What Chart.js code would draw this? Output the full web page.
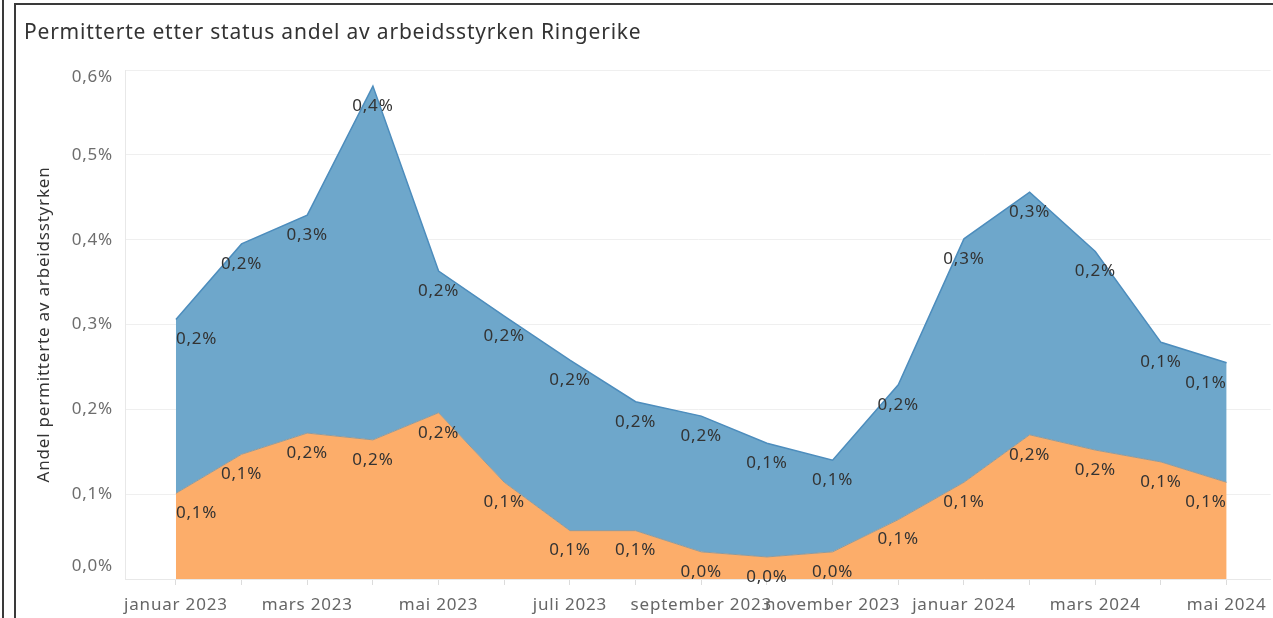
<!DOCTYPE html>
<html>
<head>
<meta charset="utf-8">
<title>Permitterte etter status</title>
<script src="https://cdn.jsdelivr.net/npm/chart.js@4.4.1/dist/chart.umd.min.js"></script>
<style>
  html, body { margin: 0; padding: 0; background: #fff; overflow: hidden; }
  #wrap { position: relative; width: 1273px; height: 618px; }
  #edge { position: absolute; left: 2px; top: 0; width: 2px; height: 618px; background: #3a3a3a; }
  #frame { position: absolute; left: 14px; top: 3px; right: 0; bottom: 0;
           border-left: 2px solid #3a3a3a; border-top: 2px solid #3a3a3a; }
  canvas { position: absolute; left: 0; top: 0; }
</style>
</head>
<body>
<div id="wrap">
  <canvas id="chart" width="1273" height="618"></canvas>
  <div id="edge"></div>
  <div id="frame"></div>
</div>
<script>
// months shown on the x axis (Jan 2023 - May 2024)
const months = [
  'januar 2023', 'februar 2023', 'mars 2023', 'april 2023', 'mai 2023', 'juni 2023',
  'juli 2023', 'august 2023', 'september 2023', 'oktober 2023', 'november 2023', 'desember 2023',
  'januar 2024', 'februar 2024', 'mars 2024', 'april 2024', 'mai 2024'
];

// share of labour force, in percent (bottom / orange layer)
const orangeShare = [0.101, 0.147, 0.172, 0.164, 0.196, 0.114, 0.057, 0.057, 0.032,
                     0.026, 0.032, 0.070, 0.114, 0.170, 0.152, 0.138, 0.114];

// share of labour force, in percent (upper / blue layer, stacked on orange)
const blueShare = [0.205, 0.248, 0.257, 0.417, 0.167, 0.196, 0.201, 0.152, 0.160,
                   0.134, 0.108, 0.159, 0.287, 0.286, 0.234, 0.141, 0.141];

const yTicks = [0, 0.1, 0.2, 0.3, 0.4, 0.5, 0.6];

const FONT = '"Noto Sans", sans-serif';
const pct = v => v.toFixed(1).replace('.', ',') + '%';
const toPoints = arr => arr.map((v, i) => ({ x: i, y: v }));

// the Tableau text is a bit spaced out
const spacing = {
  id: 'spacing',
  beforeDraw(chart) { chart.ctx.letterSpacing = '0.8px'; }
};

// y tick labels, kept inside the plot area at the ends like Tableau does
const yLabels = {
  id: 'yLabels',
  afterDraw(chart) {
    const ctx = chart.ctx;
    const y = chart.scales.y;
    ctx.save();
    ctx.font = '17px ' + FONT;
    ctx.fillStyle = '#6d6d6d';
    ctx.textAlign = 'right';
    ctx.textBaseline = 'middle';
    yTicks.forEach(v => {
      let py = y.getPixelForValue(v);
      py = Math.max(y.top + 7, Math.min(y.bottom - 13, py));
      ctx.fillText(pct(v), y.right - 12, py);
    });
    ctx.restore();
  }
};

// value labels below each point
const valueLabels = {
  id: 'valueLabels',
  afterDatasetsDraw(chart) {
    const ctx = chart.ctx;
    ctx.save();
    ctx.font = '17px ' + FONT;
    ctx.fillStyle = '#333';
    ctx.textBaseline = 'middle';
    chart.data.datasets.forEach((ds, di) => {
      const meta = chart.getDatasetMeta(di);
      const last = meta.data.length - 1;
      meta.data.forEach((pt, i) => {
        ctx.textAlign = i === 0 ? 'left' : (i === last ? 'right' : 'center');
        ctx.fillText(pct(ds.data[i].y), pt.x, pt.y + 20);
      });
    });
    ctx.restore();
  }
};

const ctx = document.getElementById('chart').getContext('2d');
new Chart(ctx, {
  type: 'line',
  data: {
    datasets: [
      {
        label: 'orange',
        data: toPoints(orangeShare),
        borderColor: '#8f9a9c',
        borderWidth: 1,
        backgroundColor: '#fcad6a',
        fill: 'origin',
        pointRadius: 0,
        tension: 0,
      },
      {
        label: 'blue',
        data: toPoints(blueShare),
        borderColor: '#4d8dbd',
        borderWidth: 1.5,
        backgroundColor: '#6ea7cb',
        fill: '-1',
        pointRadius: 0,
        tension: 0,
      }
    ]
  },
  options: {
    responsive: false,
    animation: false,
    layout: { padding: { left: 24, right: 0, top: 0, bottom: 0 } },
    plugins: {
      legend: { display: false },
      tooltip: { enabled: false },
      title: {
        display: true,
        text: 'Permitterte etter status andel av arbeidsstyrken Ringerike',
        align: 'start',
        color: '#333',
        font: { family: FONT, size: 21, weight: 'normal' },
        padding: { top: 20.4, bottom: 24.4 },
      }
    },
    scales: {
      x: {
        type: 'linear',
        min: -0.775,
        max: 16.67,
        afterBuildTicks: axis => { axis.ticks = months.map((m, i) => ({ value: i })); },
        afterFit: axis => { axis.height = 39; },
        ticks: {
          autoSkip: false,
          maxRotation: 0,
          padding: 9.8,
          color: '#666',
          font: { family: FONT, size: 17 },
          callback: v => (v % 2 === 0 ? months[v] : ''),
        },
        grid: { drawOnChartArea: false, tickLength: 6, color: '#dcdcdc' },
        border: { color: '#e8e8e8' },
      },
      y: {
        stacked: true,
        min: 0,
        max: 0.6,
        afterBuildTicks: axis => { axis.ticks = yTicks.map(v => ({ value: v })); },
        afterFit: axis => { axis.width = 101; },
        ticks: { display: false },
        grid: { color: '#efefef', drawTicks: false },
        border: { color: '#e8e8e8' },
        title: {
          display: true,
          text: 'Andel permitterte av arbeidsstyrken',
          color: '#333',
          font: { family: FONT, size: 17 },
          padding: { top: 9.8, bottom: 0 },
        }
      }
    }
  },
  plugins: [spacing, yLabels, valueLabels]
});
</script>
</body>
</html>
